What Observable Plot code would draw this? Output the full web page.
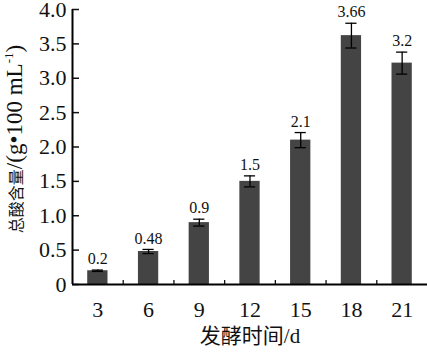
<!DOCTYPE html>
<html><head><meta charset="utf-8">
<script src="https://cdn.jsdelivr.net/npm/d3@7"></script>
<script src="https://cdn.jsdelivr.net/npm/@observablehq/plot@0.6"></script>
<style>body{margin:0;background:#fff}</style>
</head><body><div id="chart"></div>
<script>
const days = [3, 6, 9, 12, 15, 18, 21];
const acid = [0.2, 0.48, 0.9, 1.5, 2.1, 3.62, 3.22];
const errs = [0.01, 0.03, 0.05, 0.08, 0.11, 0.18, 0.16];
const labels = ["0.2", "0.48", "0.9", "1.5", "2.1", "3.66", "3.2"];
const yTicks = [0, 0.5, 1, 1.5, 2, 2.5, 3, 3.5, 4];
const xLabel = "发酵时间/d";
const yLabel = "总酸含量/(g•100 mL⁻¹)";

const data = days.map((d, i) => ({day: d, value: acid[i], err: errs[i], label: labels[i]}));
const step = days[1] - days[0];
const bounds = days.slice(0, -1).map(d => d + step / 2);
const half = 0.6, cap = 0.33;
const font = "'Liberation Serif', 'Times New Roman', 'Noto Sans CJK SC', serif";

const chart = Plot.plot({
  width: 427, height: 353,
  marginLeft: 72, marginRight: 0, marginTop: 9, marginBottom: 69,
  style: {fontFamily: font, fontSize: "22px", color: "#111", background: "#fff"},
  x: {domain: [days[0] - step / 2, days[days.length - 1] + step / 2]},
  y: {domain: [0, 4]},
  marks: [
    Plot.rectY(data, {x1: d => d.day - half, x2: d => d.day + half, y1: 0, y2: "value", fill: "#444"}),
    Plot.ruleX(data, {x: "day", y1: d => d.value - d.err, y2: d => d.value + d.err, stroke: "#000", strokeWidth: 1.3}),
    Plot.ruleY(data, {y: d => d.value + d.err, x1: d => d.day - cap, x2: d => d.day + cap, stroke: "#000", strokeWidth: 1.3}),
    Plot.ruleY(data, {y: d => d.value - d.err, x1: d => d.day - cap, x2: d => d.day + cap, stroke: "#000", strokeWidth: 1.3}),
    Plot.text(data, {x: "day", y: d => d.value + d.err, text: "label", dy: -11, fontSize: 16, fill: "#111"}),
    Plot.axisY({ticks: yTicks, tickSize: -7, tickPadding: 13, tickFormat: d => d === 0 ? "0" : d.toFixed(1), label: null, strokeWidth: 1.5}),
    Plot.axisX({ticks: days, tickSize: 0, tickPadding: 17, tickFormat: d => String(d), label: null}),
    Plot.axisX({ticks: bounds, tickSize: -4, tickFormat: () => "", label: null, strokeWidth: 1.3}),
    Plot.ruleX([days[0] - step / 2], {stroke: "#000", strokeWidth: 2}),
    Plot.ruleY([0], {stroke: "#000", strokeWidth: 2}),
    Plot.text([xLabel], {frameAnchor: "bottom", dy: 58, fontSize: 21, fill: "#111"}),
    Plot.text([yLabel], {frameAnchor: "left", textAnchor: "middle", rotate: -90, dx: -58, fontSize: 23, fill: "#111"})
  ]
});
// style the y title: smaller CJK part, superscript unit exponent
d3.select(chart).selectAll("text").filter(function() { return this.textContent === yLabel; }).each(function() {
  const m = yLabel.match(/^([\u4e00-\u9fff]+)(.*?)([⁻¹]+)(\))$/);
  const sup = m[3].replace(/⁻/g, "-").replace(/¹/g, "1");
  const t = d3.select(this).text(null);
  t.append("tspan").attr("font-size", 16).attr("dx", 8).text(m[1]);
  t.append("tspan").text(m[2]);
  t.append("tspan").attr("font-size", 13).attr("dy", -9).text(sup);
  t.append("tspan").attr("dy", 9).text(m[4]);
});
document.getElementById("chart").appendChild(chart);
</script>
</body></html>
